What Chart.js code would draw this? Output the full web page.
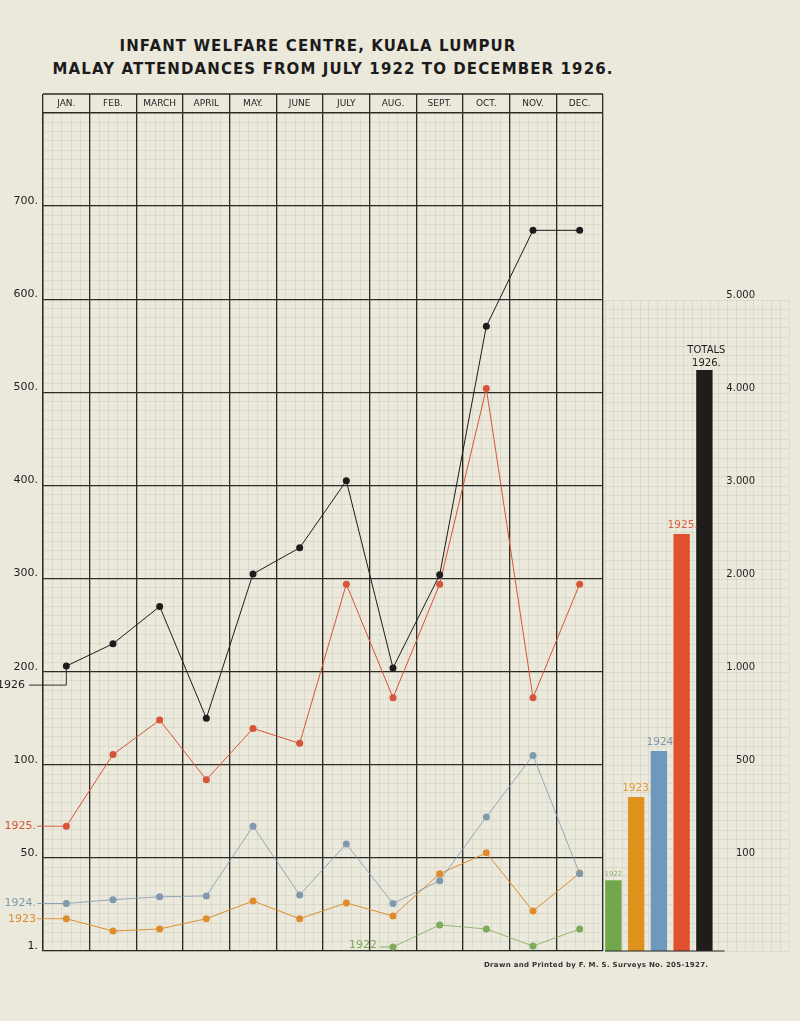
<!DOCTYPE html>
<html>
<head>
<meta charset="utf-8">
<script src="https://cdn.jsdelivr.net/npm/chart.js@4"></script>
<style>
  body { margin: 0; background: #ebe8dc; width: 800px; height: 1021px; overflow: hidden; font-family: "DejaVu Sans", sans-serif; }
  .camada { position: absolute; left: 0; top: 0; width: 800px; height: 1021px; }
  .titulo { position: absolute; text-align: center; font-size: 15px; font-weight: bold; letter-spacing: 1.1px; color: #1b1b1b; white-space: nowrap; }
  #rodape { position: absolute; left: 484px; top: 961px; font-size: 7px; font-weight: bold; color: #333; letter-spacing: 0.3px; }
</style>
</head>
<body>
<div class="titulo" style="top:37px; left:0; width:636px">INFANT WELFARE CENTRE, KUALA LUMPUR</div>
<div class="titulo" style="top:60px; left:0; width:666px">MALAY ATTENDANCES FROM JULY 1922 TO DECEMBER 1926.</div>
<div class="camada"><canvas id="graficoMensal" width="800" height="1021"></canvas></div>
<div class="camada"><canvas id="graficoTotais" width="800" height="1021"></canvas></div>
<div id="rodape">Drawn and Printed by F. M. S. Surveys No. 205-1927.</div>
<script>
// meses e valores mensais
const meses = ["JAN.", "FEB.", "MARCH", "APRIL", "MAY.", "JUNE", "JULY", "AUG.", "SEPT.", "OCT.", "NOV.", "DEC."];
const anos = ["1926", "1925", "1924", "1923", "1922"];
const valores1926 = [206, 230, 270, 150, 305, 333, 405, 204, 304, 571, 674, 674];
const valores1925 = [67, 111, 148, 92, 139, 123, 294, 172, 294, 504, 172, 294];
const valores1924 = [26, 28, 29.5, 30, 67, 30.5, 57.5, 26, 38, 72, 110, 41.6];
const valores1923 = [18, 11.5, 12.6, 18, 27.3, 18, 26.3, 19.4, 41.6, 52.7, 22, 42];
const valores1922 = [null, null, null, null, null, null, null, 3.1, 14.7, 12.6, 3.6, 12.6];
const coresLinhas = ["#1c1c1c", "#d65438", "#7f98ae", "#de8c2c", "#7eab58"];

// escala irregular do eixo mensal
const marcasMensais = [1, 50, 100, 200, 300, 400, 500, 600, 700, 800];
const rotulosMensais = ["1.", "50.", "100.", "200.", "300.", "400.", "500.", "600.", "700.", ""];

// totais anuais
const rotulosTotais = ["1922", "1923.", "1924", "1925.", "1926."];
const totais = [76, 362, 575, 2484, 4247];
const coresBarras = ["#72a84c", "#e0921f", "#6f98bf", "#e2512f", "#1e1d1c"];
const coresRotulosTotais = ["#8fb070", "#e39a3a", "#8096a8", "#d9603f", "#1e1e1e"];
const marcasTotais = [0, 100, 500, 1000, 2000, 3000, 4000, 5000];
const rotulosEixoTotais = ["", "100", "500", "1.000", "2.000", "3.000", "4.000", "5.000"];

const corGrade = "#2b2a27";
const corGradeFina = "rgba(120,135,110,0.18)";

// converte valor real para a posicao na escala por trechos
function paraIndice(v, marcas) {
  if (v === null) return null;
  for (let i = 1; i < marcas.length; i++) {
    if (v <= marcas[i]) return (i - 1) + (v - marcas[i - 1]) / (marcas[i] - marcas[i - 1]);
  }
  return marcas.length - 1;
}

const series = [valores1926, valores1925, valores1924, valores1923, valores1922];
const conjuntos = series.map((s, i) => ({
  label: anos[i],
  data: s.map(v => paraIndice(v, marcasMensais)),
  borderColor: coresLinhas[i],
  backgroundColor: coresLinhas[i],
  borderWidth: i === 2 || i === 4 ? 0.8 : 1,
  pointRadius: 3.5,
  pointBorderWidth: 0,
  tension: 0
}));

// grade fina tipo papel milimetrado
function gradeFina(max, posicao, horizontal) {
  return {
    type: "linear", min: 0, max: max, position: posicao,
    ticks: { display: false, stepSize: 1 },
    grid: { color: corGradeFina, lineWidth: 0.7, drawTicks: false, z: -2 },
    border: { display: false },
    afterFit(s) { if (horizontal) s.height = 0; else s.width = 0; }
  };
}

// rotulos dos anos a esquerda e caixa do cabecalho
const pluginRotulos = {
  id: "rotulosAnos",
  afterDraw(chart) {
    const ctx = chart.ctx;
    const x = chart.scales.x;
    ctx.save();
    ctx.strokeStyle = corGrade;
    ctx.lineWidth = 1.3;
    ctx.beginPath();
    ctx.moveTo(x.left, x.top);
    ctx.lineTo(x.right, x.top);
    ctx.stroke();

    ctx.font = "11px 'DejaVu Sans'";
    ctx.textBaseline = "middle";
    chart.data.datasets.forEach((ds, i) => {
      const meta = chart.getDatasetMeta(i);
      const k = ds.data.findIndex(v => v !== null);
      const p = meta.data[k];
      ctx.fillStyle = ds.borderColor;
      ctx.strokeStyle = ds.borderColor;
      ctx.lineWidth = 0.9;
      ctx.beginPath();
      if (i === 0) {
        ctx.textAlign = "right";
        ctx.fillText("1926", 25, p.y + 19);
        ctx.moveTo(29, p.y + 19); ctx.lineTo(p.x, p.y + 19); ctx.lineTo(p.x, p.y);
      } else if (i === 4) {
        ctx.textAlign = "right";
        ctx.fillText("1922", p.x - 16, p.y - 2);
        ctx.moveTo(p.x - 13, p.y); ctx.lineTo(p.x, p.y);
      } else {
        ctx.textAlign = "right";
        ctx.fillText(ds.label + (i === 3 ? "" : "."), 36, p.y);
        ctx.moveTo(37, p.y); ctx.lineTo(p.x, p.y);
      }
      ctx.stroke();
    });
    ctx.restore();
  }
};

new Chart(document.getElementById("graficoMensal"), {
  type: "line",
  data: { labels: meses, datasets: conjuntos },
  options: {
    responsive: false,
    animation: false,
    layout: { padding: { top: 94, left: 0, right: 197, bottom: 70 } },
    plugins: { legend: { display: false }, tooltip: { enabled: false } },
    scales: {
      x: {
        position: "top",
        offset: true,
        grid: { offset: true, color: corGrade, lineWidth: 1.3, tickLength: 19, tickColor: corGrade, z: -1 },
        border: { color: corGrade, width: 1.3 },
        ticks: { padding: -15, autoSkip: false, maxRotation: 0, color: "#1e1e1e", font: { family: "DejaVu Sans", size: 9 } },
        afterFit(s) { s.height = 19; }
      },
      y: {
        min: 0, max: 9,
        grid: { color: corGrade, lineWidth: 1.3, drawTicks: false, z: -1 },
        border: { color: corGrade, width: 1.3 },
        ticks: {
          stepSize: 1, padding: 5, labelOffset: -5, color: "#1e1e1e",
          font: { family: "DejaVu Sans", size: 11 },
          callback: v => rotulosMensais[v]
        },
        afterFit(s) { s.width = 43; }
      },
      xm: gradeFina(60, "bottom", true),
      ym: gradeFina(90, "right", false)
    }
  },
  plugins: [pluginRotulos]
});

// rotulos em cima das barras de totais
const pluginTotais = {
  id: "rotulosTotais",
  afterDatasetsDraw(chart) {
    const ctx = chart.ctx;
    const barras = chart.getDatasetMeta(0).data;
    ctx.save();
    ctx.textBaseline = "middle";
    ctx.textAlign = "center";
    rotulosTotais.forEach((r, i) => {
      const b = barras[i];
      ctx.fillStyle = coresRotulosTotais[i];
      if (i === 0) {
        ctx.font = "7px 'DejaVu Sans'";
        ctx.fillText(r, b.x, b.y - 6);
      } else if (i === 4) {
        ctx.font = "10px 'DejaVu Sans'";
        ctx.fillText("TOTALS", b.x + 2, b.y - 20);
        ctx.fillText(r, b.x + 2, b.y - 7);
      } else {
        ctx.font = "10.5px 'DejaVu Sans'";
        ctx.fillText(r, b.x + 1, b.y - 9);
      }
    });
    // linha de base sob as barras
    const ult = barras[4];
    ctx.strokeStyle = corGrade;
    ctx.lineWidth = 1.2;
    ctx.beginPath();
    ctx.moveTo(chart.chartArea.left, chart.chartArea.bottom);
    ctx.lineTo(ult.x + ult.width / 2 + 12, chart.chartArea.bottom);
    ctx.stroke();
    ctx.restore();
  }
};

new Chart(document.getElementById("graficoTotais"), {
  type: "bar",
  data: {
    datasets: [{
      data: totais.map((v, i) => ({ x: i, y: paraIndice(v, marcasTotais) })),
      backgroundColor: coresBarras,
      barPercentage: 0.72,
      categoryPercentage: 1
    }]
  },
  options: {
    responsive: false,
    animation: false,
    layout: { padding: { top: 300, left: 605, right: 11, bottom: 70 } },
    plugins: { legend: { display: false }, tooltip: { enabled: false } },
    scales: {
      x: { type: "linear", min: -0.37, max: 7.72, offset: false, grace: 0, display: false },
      y: {
        position: "right",
        min: 0, max: 7,
        grid: { display: false },
        border: { display: false },
        ticks: {
          stepSize: 1, mirror: true, padding: -34, labelOffset: -5, color: "#1e1e1e",
          font: { family: "DejaVu Sans", size: 10 },
          callback: v => rotulosEixoTotais[v]
        },
        afterFit(s) { s.width = 0; }
      },
      xm: gradeFina(20, "bottom", true),
      ym: gradeFina(70, "left", false)
    }
  },
  plugins: [pluginTotais]
});
</script>
</body>
</html>
